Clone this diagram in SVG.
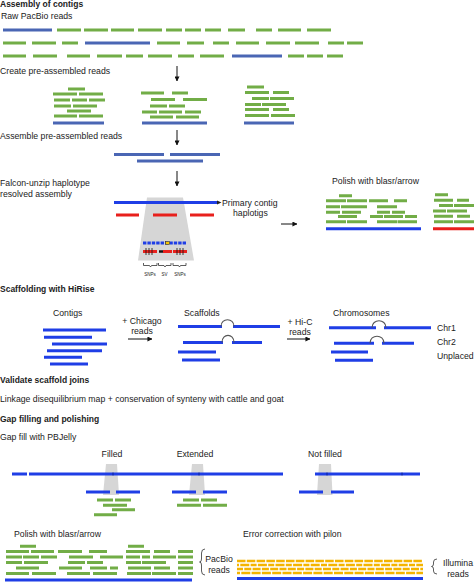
<svg xmlns="http://www.w3.org/2000/svg" width="474" height="582" viewBox="0 0 474 582">
<defs>
<marker id="ah" viewBox="0 0 6 6" refX="5.5" refY="3" markerWidth="5" markerHeight="5" markerUnits="userSpaceOnUse" orient="auto"><path d="M0 0L6 3L0 6z" fill="#111"/></marker>
<style>
text{font-family:"Liberation Sans",Arial,sans-serif;font-size:8.7px;fill:#222}
.b{font-weight:bold;font-size:8.5px}
.s{font-size:4.5px}
.g{stroke:#72ad47;stroke-width:3;fill:none}
.rb{stroke:#4a66b4;stroke-width:3;fill:none}
.bl{stroke:#1f3ee6;stroke-width:3;fill:none}
.red{stroke:#e8201c;stroke-width:3;fill:none}
.y{stroke:#f4b400;stroke-width:2.6;fill:none}
.gr{fill:#d6d6d6}
.ar{stroke:#111;stroke-width:1;fill:none;marker-end:url(#ah)}
.arc{stroke:#555;stroke-width:1.1;fill:none}
.br{stroke:#333;stroke-width:0.8;fill:none}
</style>
</defs>
<rect width="474" height="582" fill="#fff"/>

<g id="assembly">
<text class="b" x="0" y="7">Assembly of contigs</text>
<text x="1" y="18.5">Raw PacBio reads</text>
<path class="rb" d="M3 30H52M85 43H150M232 56H282"/>
<path class="g" d="M57 30H81M84 30H108M111 30H134M138 30H162M166 30H182M185 30H201M205 30H221M228 30H245M256 30H272M278 30H301M307 30H331
M3 43H26M32 43H56M62 43H78M157 43H180M187 43H204M213 43H229M236 43H259M266 43H290M295 43H319M328 43H344M347 43H363
M3 56H26M33 56H57M67 56H90M97 56H122M126 56H143M148 56H172M178 56H194M200 56H224M288 56H304M307 56H323M327 56H343"/>
<text x="0" y="74">Create pre-assembled reads</text>
</g>

<g id="preassembled">
<path class="g" d="M68 89H85M53 94H77M79 94H103M54 100H70M72 100H87M89 100H105M54 106H71M73 106H97M67 111H91M54 116H77M79 116H103
M141 93H164M172 93H188M151 99.5H175M183 99.5H207M150 106H167M169 106H185M142 112H157M159 112H182M185 112H201M150 117H173M176 117H199
M247 87H264M245 92.5H269M273 92.5H289M252 98.5H269M270 98.5H294M245 104.5H261M262 104.5H286M245 109.5H269M273 109.5H289M245 115.5H269M271 115.5H295"/>
<path class="rb" d="M53 123H104M142 123H207M244 123H294"/>
<text x="0" y="139">Assemble pre-assembled reads</text>
<path class="rb" d="M114 154.5H164M170 154.5H220M137 161H203"/>
</g>

<g id="falcon">
<text x="0" y="186">Falcon-unzip haplotype</text>
<text x="0" y="196.5">resolved assembly</text>
<polygon class="gr" points="147,197.5 183,197.5 194,260.5 138,260.5"/>
<path class="bl" d="M114 202.5H218"/>
<polygon points="217,200.5 221.5,202.5 217,204.5" fill="#222"/>
<path class="red" d="M116 215H139M153 215H177M190 215H214"/>
<path class="bl" d="M143 243H187" stroke-width="2.5" stroke-dasharray="3.4 1"/>
<rect x="165.5" y="241.6" width="4" height="2.8" fill="#f4c400" stroke="#222" stroke-width="0.5"/>
<path class="red" d="M143 251.5H157M163 251.5H172M173 251.5H187" stroke-width="2.5"/>
<path d="M159 251.5H163" stroke="#111" stroke-width="2.5"/>
<path d="M146 248V255M149 248V255M152 248V255M177 248V255M180 248V255M183 248V255" stroke="#111" stroke-width="0.8"/>
<path class="br" d="M143.5 263V265.5H149.5L150.5 267L151.5 265.5H157V263M158.5 263V265.5H164L165 267L166 265.5H171V263M173 263V265.5H178.5L179.5 267L180.5 265.5H186V263"/>
<text class="s" x="150" y="276" text-anchor="middle">SNPs</text>
<text class="s" x="164.5" y="276" text-anchor="middle">SV</text>
<text class="s" x="180" y="276" text-anchor="middle">SNPs</text>
<text x="222" y="205.5">Primary contig</text>
<text x="233" y="216">haplotigs</text>
</g>

<g id="polish1">
<text x="332" y="184">Polish with blasr/arrow</text>
<path class="g" d="M339 195.7H352M326 200.7H346M347 200.7H367M369 200.7H388M394 200.7H407M326 206.7H340M341 206.7H367M377 206.7H397M326 212.3H340M342 212.3H361M377 212.3H390M392 212.3H405M338 216.5H357M370 216.5H383M384 216.5H403M405 216.5H417M326 221.7H346M347 221.7H367M377 221.7H397M397.5 221.7H417
M435 194.7H448M434 200.3H453M457 200.3H469M439 205.5H453M454 205.5H474M433 211H446M447 211H467M434 216.3H453M457 216.3H470M434 221.7H453M454 221.7H474"/>
<path class="bl" d="M326 228.7H421"/>
<path class="red" d="M433 228.7H474"/>
</g>

<g id="scaffolding">
<text class="b" x="0" y="292">Scaffolding with HiRise</text>
<text x="53" y="316">Contigs</text>
<path class="bl" d="M43 330H106M44 337.3H92M52 344H107M47 350.7H102M44 357.3H82M50 364H88"/>
<text x="142" y="323.5" text-anchor="middle">+ Chicago</text>
<text x="142" y="333.5" text-anchor="middle">reads</text>
<text x="184" y="316">Scaffolds</text>
<path class="bl" d="M178 326.5H222M233 326.5H280M183 342.5H223M232 342.5H262M178 352H216M182 360H220"/>
<path class="arc" d="M221 326.5C221 317.5 234 317.5 234 326.5M222 342.5C222 333 234 333 234 342.5"/>
<text x="300" y="325" text-anchor="middle">+ Hi-C</text>
<text x="300" y="335" text-anchor="middle">reads</text>
<text x="333" y="316">Chromosomes</text>
<path class="bl" d="M329 327.7H376M384 327.7H431M334 343.3H374M382 343.3H414M331 352H368M335 360.3H373"/>
<path class="arc" d="M372 327.7C372 318.5 386 318.5 386 327.7M370 343.3C370 333.8 384 333.8 384 343.3"/>
<text x="437" y="331">Chr1</text>
<text x="437" y="345">Chr2</text>
<text x="437" y="359">Unplaced</text>
</g>

<g id="validate">
<text class="b" x="0" y="383">Validate scaffold joins</text>
<text x="0" y="402">Linkage disequilibrium map + conservation of synteny with cattle and goat</text>
</g>

<g id="gapfill">
<text class="b" x="0" y="421.5">Gap filling and polishing</text>
<text x="0" y="440">Gap fill with PBJelly</text>
<text x="112" y="457" text-anchor="middle">Filled</text>
<text x="195" y="457" text-anchor="middle">Extended</text>
<text x="325" y="457" text-anchor="middle">Not filled</text>
<polygon class="gr" points="106,464 117,464 119,495 103,495"/>
<polygon class="gr" points="192,464 203,464 205,495 189,495"/>
<polygon class="gr" points="319,464 331,464 332.5,495 317,495"/>
<path class="bl" d="M12 474H27M29 474H283M315 474H420M86 492H110M116 492H140M172 492H196M203 492H227M299 492H323M331 492H354"/>
<path d="M113 472.5V475.5M199 472.5V475.5M327 472.5V475.5M402 472.5V475.5" stroke="#0a1e80" stroke-width="0.8"/>
<path class="g" d="M97 500H113M115 500H131M103 505.3H127M112 509.7H135M94 514.7H117M183 500H199M201 500H217M177 505.3H201M203 505.3H227"/>
</g>

<g id="polish2">
<text x="14" y="536.5">Polish with blasr/arrow</text>
<path class="g" d="M20 546.3H36M128 546.3H144
M6 551.5H29M31 551.5H54M58 551.5H82M89 551.5H107M126 551.5H150M154 551.5H170M178 551.5H193
M6 557H22M23 557H39M41 557H57M69 557H93M100 557H123M126 557H140M142 557H150M153 557H176M178 557H193
M6 562.5H22M24 562.5H48M68 562.5H85M87 562.5H103M126 562.5H141M142 562.5H166M178 562.5H193
M16 568H39M59 568H82M90 568H107M110 568H118M128 568H151M154 568H170M178 568H193
M6 573.5H29M32 573.5H56M67 573.5H90M93 573.5H117M127 573.5H151M152 573.5H176M178 573.5H193"/>
<path class="bl" d="M5 580H192" stroke-width="4"/>
<path class="br" d="M205 549Q201.5 549 201.5 553V559Q201.5 562 199.5 562Q201.5 562 201.5 565V571Q201.5 575 205 575"/>
<text x="219" y="561.5" text-anchor="middle">PacBio</text>
<text x="219" y="572.5" text-anchor="middle">reads</text>
</g>

<g id="pilon">
<text x="243" y="537">Error correction with pilon</text>
<path class="y" d="M237 561H423" stroke-dasharray="8.5 1.3"/>
<path class="y" d="M237 565H423" stroke-dasharray="6 1.3 9 1.3" stroke-dashoffset="4"/>
<path class="y" d="M237 569H423" stroke-dasharray="8 1.3 7 1.3" stroke-dashoffset="2"/>
<path class="y" d="M237 573H423" stroke-dasharray="9 1.3" stroke-dashoffset="6"/>
<path class="bl" d="M237 578.5H423" stroke-width="4"/>
<path class="br" d="M437 559Q433.5 559 433.5 562V564Q433.5 566.5 431.5 566.5Q433.5 566.5 433.5 569V571Q433.5 574 437 574"/>
<text x="458" y="565.5" text-anchor="middle">Illumina</text>
<text x="458" y="576.5" text-anchor="middle">reads</text>
</g>

<g id="connectors">
<path class="ar" d="M177 66V81"/>
<path class="ar" d="M177 130V145"/>
<path class="ar" d="M177 171V186"/>
<path class="ar" d="M281 224H297"/>
<path class="ar" d="M128 339H152"/>
<path class="ar" d="M287 339H310"/>
</g>
</svg>
